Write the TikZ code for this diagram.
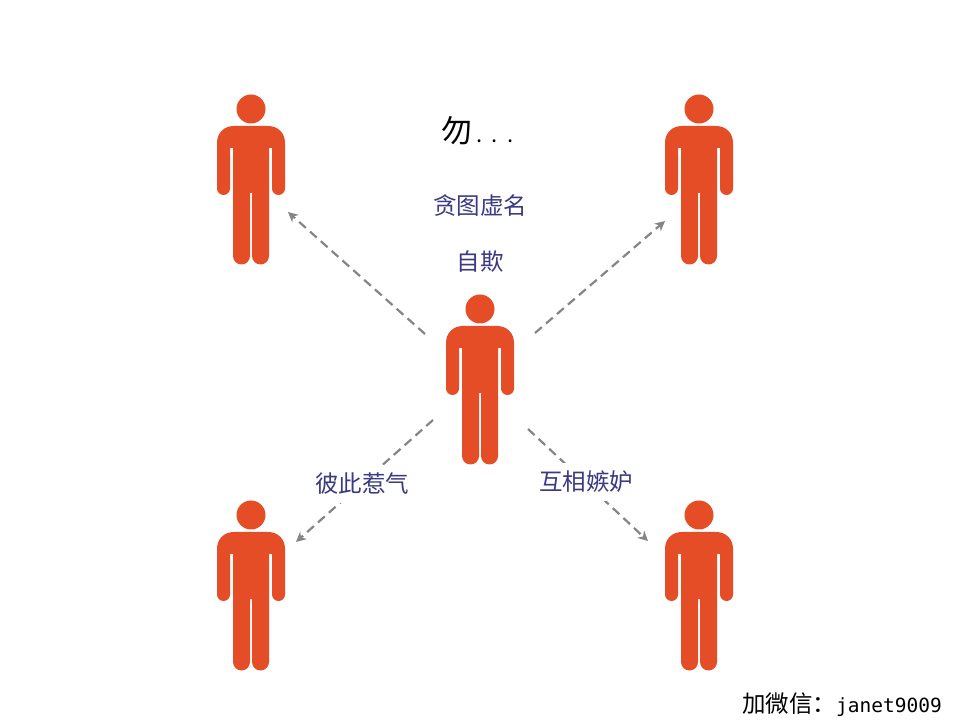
\documentclass[tikz,border=0pt]{standalone}
\usepackage{fontspec}
\usetikzlibrary{arrows.meta}
\setmainfont{Noto Sans CJK SC}
\newfontfamily\latinmono{DejaVu Sans Mono}
\definecolor{personred}{HTML}{E54D26}
\definecolor{labelblue}{HTML}{3B3A82}
\definecolor{linkgray}{HTML}{858585}
\tikzset{
  x=1pt,y=1pt,
  person/.pic={
    \fill[personred] (0,71) circle[radius=14.5];
    \fill[personred]
      (-17,54) .. controls (-27,54) and (-34,47) .. (-34,37)
      -- (-34,-8.5) arc[start angle=180,end angle=360,radius=6.5]
      -- (-21,32) -- (-18,32)
      -- (-18,-76) arc[start angle=180,end angle=360,radius=8.5]
      -- (-1,-13) -- (1,-13)
      -- (1,-76) arc[start angle=180,end angle=360,radius=8.5]
      -- (18,32) -- (21,32)
      -- (21,-8.5) arc[start angle=180,end angle=360,radius=6.5]
      -- (34,37) .. controls (34,47) and (27,54) .. (17,54)
      -- cycle;
  },
  link/.style={draw=linkgray,line width=2.2pt,dash pattern=on 9pt off 5.5pt,
    -{Stealth[length=10pt,width=10pt]}},
  relabel/.style={font=\fontsize{23.5}{26}\selectfont,text=labelblue,inner sep=0pt},
  covered/.style={relabel,fill=white,minimum height=38pt,minimum width=96pt},
}
\begin{document}
\begin{tikzpicture}
\useasboundingbox (0,0) rectangle (960,720);
\fill[white] (0,0) rectangle (960,720);
\pic at (480,340) {person};
\pic at (251,540) {person};
\pic at (699,540) {person};
\pic at (251,134) {person};
\pic at (699,134) {person};
\coordinate (ulS) at (425,386);
\coordinate (ulE) at (288,508);
\coordinate (urS) at (535,387);
\coordinate (urE) at (665,499);
\coordinate (llS) at (433,300);
\coordinate (llE) at (296,178);
\coordinate (lrS) at (528,291);
\coordinate (lrE) at (648,179);
\draw[link] (ulS) -- (ulE);
\draw[link] (urS) -- (urE);
\draw[link] (llS) -- (llE);
\draw[link] (lrS) -- (lrE);
\node[font=\fontsize{31}{34}\selectfont,text=black,inner sep=0pt,anchor=west] (title) at (441,589) {勿\hspace{4pt}{\fontsize{22}{24}\selectfont .\hspace{9.5pt}.\hspace{9.5pt}.}};
\node[relabel] (greed) at (480,514) {贪图虚名};
\node[relabel] (selfdeceit) at (480,458) {自欺};
\node[covered] (provoke) at (362,236) {彼此惹气};
\node[covered] (envy) at (586,238) {互相嫉妒};
\node[font=\fontsize{23.5}{26}\selectfont,text=black,inner sep=0pt,anchor=west] (contact) at (742,15) {加微信：{\latinmono\fontsize{19.5}{22}\selectfont janet9009}};
\end{tikzpicture}
\end{document}
